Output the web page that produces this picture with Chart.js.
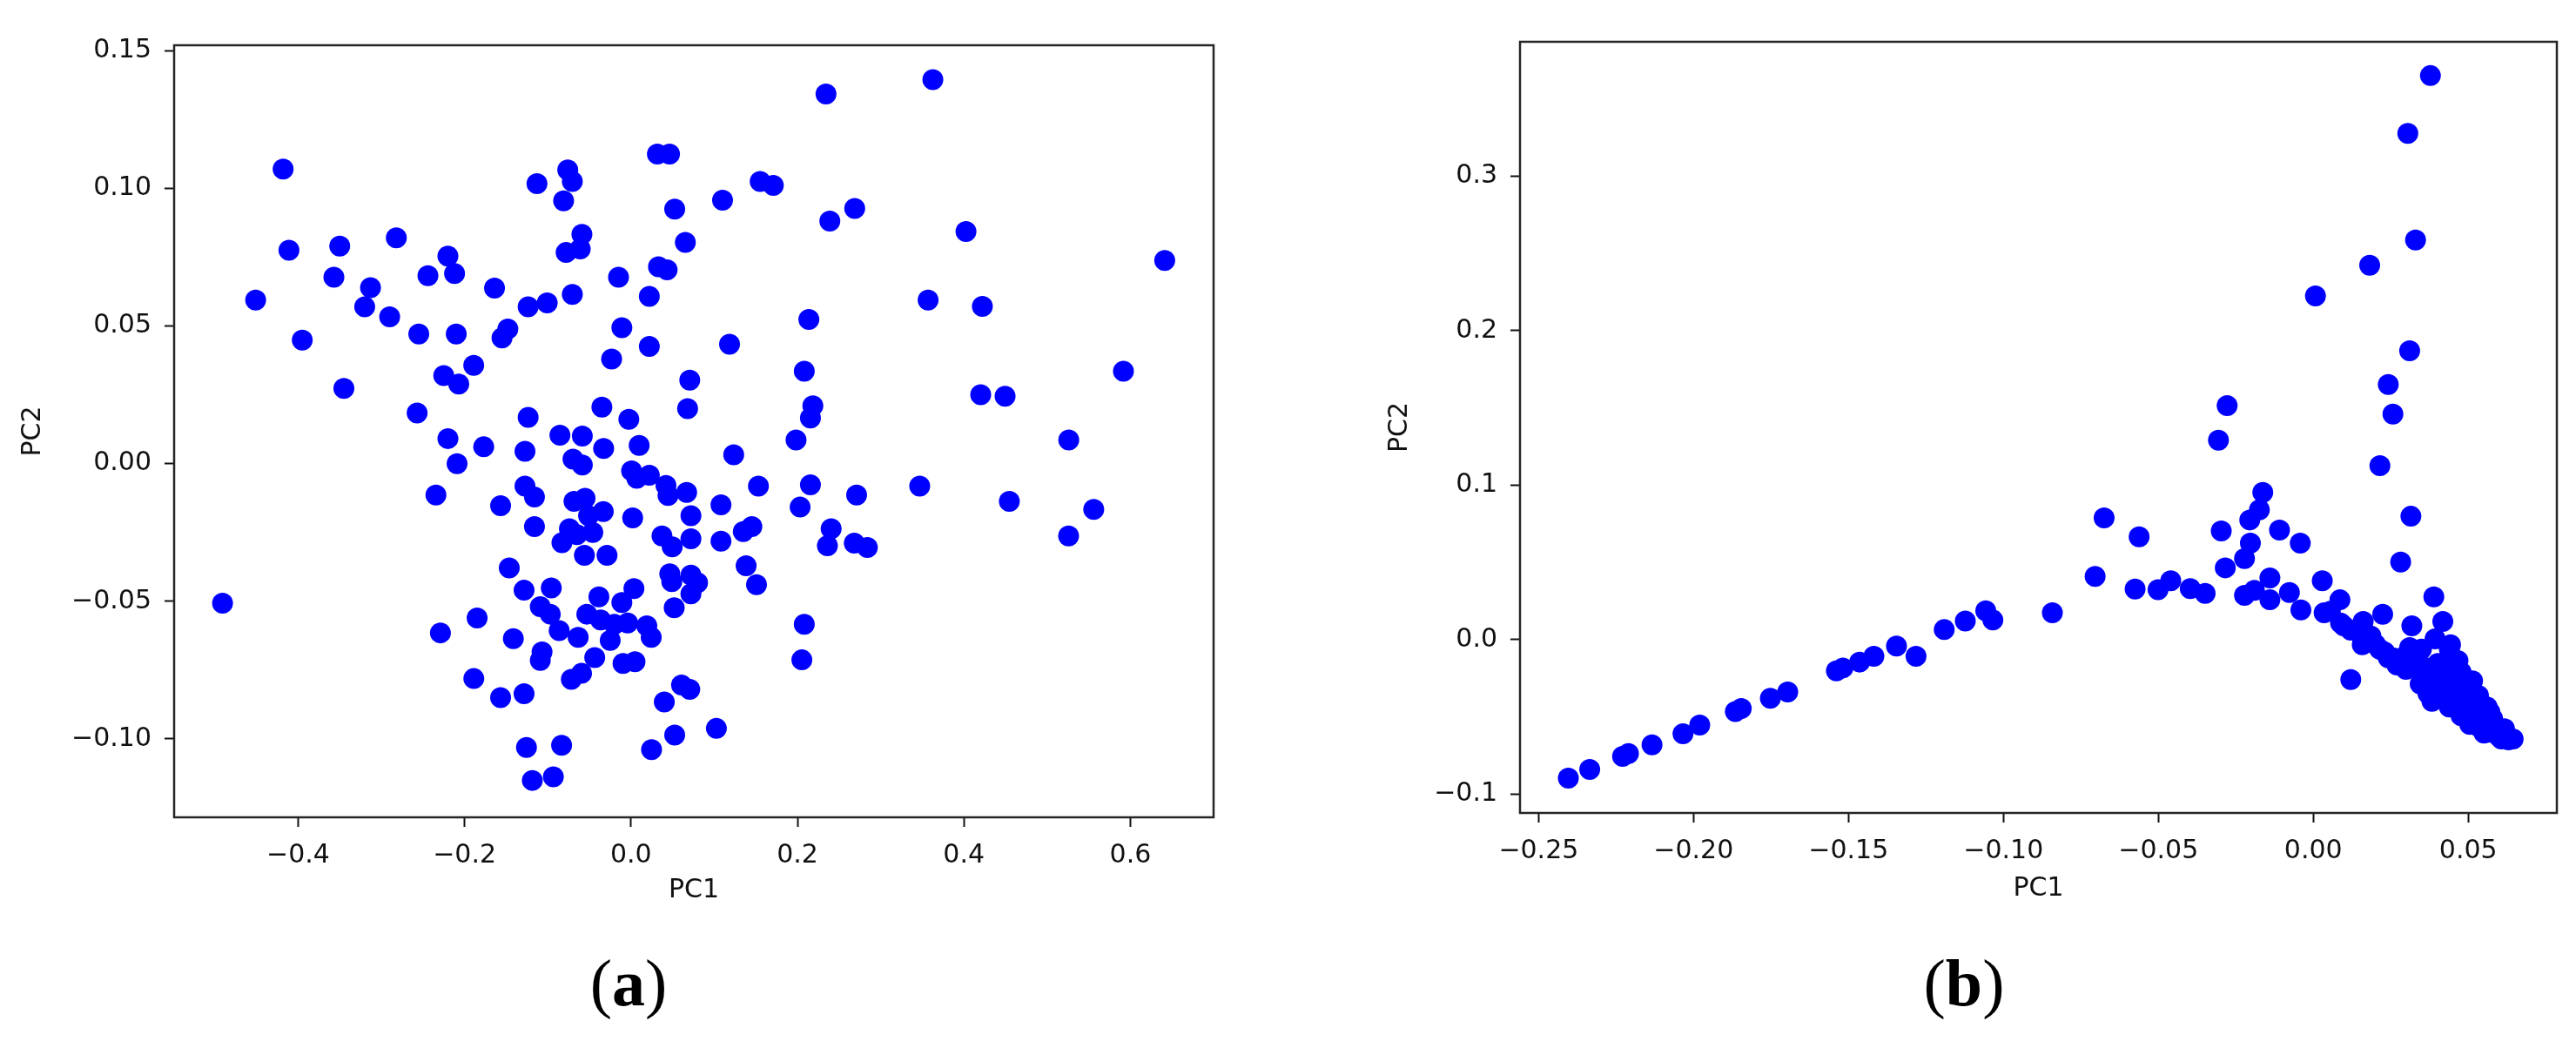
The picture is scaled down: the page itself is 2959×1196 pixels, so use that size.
<!DOCTYPE html>
<html>
<head>
<meta charset="utf-8">
<script src="https://cdn.jsdelivr.net/npm/chart.js@4.4.0/dist/chart.umd.min.js"></script>
<style>
  body { margin:0; background:#fff; width:2959px; height:1196px; position:relative; overflow:hidden; }
  .panel { position:absolute; top:0; height:1060px; }
  .caption { position:absolute; top:1079px; width:200px; text-align:center; font-family:"Liberation Serif", "Times New Roman", serif; font-size:76px; line-height:100px; color:#000; }
</style>
</head>
<body>

<div class="panel" style="left:0;width:1440px"><canvas id="pca-a"></canvas></div>
<div class="panel" style="left:1560px;width:1399px"><canvas id="pca-b"></canvas></div>
<div class="caption" style="left:622px">(<b>a</b>)</div>
<div class="caption" style="left:2156px">(<b>b</b>)</div>

<script>
// panel (a): PC1 / PC2 scores
var pcaA_x = [
  -0.418,-0.411,-0.350,-0.282,-0.357,-0.451,-0.313,-0.320,-0.290,-0.395,
  -0.255,-0.210,-0.220,-0.212,-0.244,-0.164,-0.148,-0.155,-0.189,-0.225,
  -0.207,-0.345,-0.257,-0.220,-0.177,-0.113,-0.076,-0.0705,-0.081,-0.059,
  -0.078,-0.061,-0.015,-0.0705,-0.1236,-0.1007,0.0317,0.0463,0.0525,0.0653,
  0.033,0.0434,0.022,-0.011,0.022,-0.0233,0.0706,0.068,-0.035,-0.0026,
  -0.1236,-0.0854,-0.0585,
  -0.1274,-0.0329,0.0098,-0.209,-0.0697,-0.0585,0.0007,0.007,0.022,0.042,
  0.0445,0.0669,-0.2344,-0.1567,-0.1274,-0.116,-0.0685,-0.0552,-0.0333,-0.051,
  0.002,-0.116,-0.074,-0.083,-0.065,-0.0459,-0.056,-0.0288,0.0372,0.0495,
  0.072,0.072,-0.1463,-0.1285,-0.0958,-0.109,-0.097,-0.0863,-0.0635,-0.0531,
  -0.0386,-0.0365,-0.020,-0.025,-0.011,0.0035,-0.004,0.019,0.0243,0.0466,
  0.049,0.0519,0.072,0.072,-0.1849,-0.229,-0.1414,-0.1069,-0.109,-0.0436,
  -0.0096,0.0048,-0.0717,-0.0594,-0.1889,-0.1567,-0.1285,0.0607,0.0706,0.040,
  0.0525,0.0247,-0.1256,-0.0834,-0.1186,-0.0933,-0.4908,
  0.2343,0.3627,0.1552,0.171,0.110,0.2688,0.2389,0.4025,0.6413,0.357,
  0.4222,0.2137,0.1184,0.2082,0.5917,0.4202,0.4495,0.2185,0.2156,0.1983,
  0.526,
  0.1234,0.1531,0.2156,0.2711,0.3469,0.4546,0.556,0.5258,0.1081,0.1081,
  0.1349,0.1452,0.2032,0.2405,0.236,0.2683,0.284,0.080,0.1383,0.1508,
  0.2082,0.2053,0.1026
];
var pcaA_y = [
  0.107,0.0775,0.079,0.082,0.0677,0.0594,0.0639,0.057,0.0533,0.0449,
  0.0471,0.0471,0.0754,0.0691,0.0683,0.0638,0.0489,0.0457,0.0357,0.032,
  0.0289,0.0273,0.0184,0.0091,0.0061,0.1017,0.1067,0.1025,0.0955,0.0833,
  0.0767,0.078,0.0677,0.0615,0.057,0.0584,0.1125,0.1125,0.0925,0.0804,
  0.0715,0.0704,0.0608,0.0494,0.0426,0.038,0.0303,0.020,0.0205,0.0161,
  0.0168,0.0103,0.010,
  0.0045,0.0055,0.0066,0.000,0.0016,-0.0005,-0.0026,-0.0053,-0.0042,-0.0079,
  -0.0116,-0.0105,-0.0114,-0.0153,-0.0082,-0.0121,-0.0137,-0.0126,-0.0174,-0.0189,
  -0.0197,-0.0229,-0.0237,-0.0287,-0.0258,-0.025,-0.0333,-0.0333,-0.0263,-0.0302,
  -0.0189,-0.0273,-0.0379,-0.046,-0.0452,-0.052,-0.0547,-0.0607,-0.0631,-0.0547,
  -0.0484,-0.0568,-0.0584,-0.0642,-0.0505,-0.0454,-0.0579,-0.0589,-0.0631,-0.040,
  -0.0429,-0.0524,-0.0405,-0.0473,-0.0561,-0.0615,-0.0636,-0.0684,-0.0715,-0.0705,
  -0.0726,-0.072,-0.0784,-0.0762,-0.0781,-0.085,-0.0836,-0.0804,-0.082,-0.0866,
  -0.0986,-0.1039,-0.1031,-0.1023,-0.1151,-0.1138,-0.0507,
  0.1343,0.1395,0.1025,0.1011,0.0957,0.0927,0.0881,0.0843,0.0738,0.0594,
  0.0571,0.0524,0.0434,0.0336,0.0336,0.025,0.0245,0.021,0.0166,0.0086,
  0.0086,
  0.0032,-0.0082,-0.0077,-0.0114,-0.0082,-0.0137,-0.0166,-0.0263,-0.015,-0.0282,
  -0.0247,-0.0229,-0.0158,-0.0237,-0.0298,-0.0289,-0.0305,-0.0433,-0.0371,-0.044,
  -0.0584,-0.0713,-0.0962
];
var xTicksA = [-0.4, -0.2, 0.0, 0.2, 0.4, 0.6];
var xLabelsA = ['\u22120.4', '\u22120.2', '0.0', '0.2', '0.4', '0.6'];
var yTicksA = [0.15, 0.10, 0.05, 0.00, -0.05, -0.10];
var yLabelsA = ['0.15', '0.10', '0.05', '0.00', '\u22120.05', '\u22120.10'];

// panel (b)
var pcaB_x = [
  0.0378,0.0305,0.033,0.0182,0.0007,0.0311,0.0242,0.0257,-0.0278,-0.0306,
  0.0215,-0.0163,-0.0174,-0.0205,0.0315,-0.0675,-0.0562,-0.0297,-0.0109,-0.0042,
  -0.0203,-0.0222,-0.0284,0.0282,-0.0704,-0.0575,-0.0501,-0.046,-0.0397,-0.0349,
  -0.0222,-0.019,-0.014,-0.014,-0.0077,-0.004,0.0029,0.0035,0.0086,0.0098,
  0.0161,0.0224,0.0161,0.0318,0.0389,0.0418,0.0121,0.0311,0.0349,0.0393,
  0.0443,-0.0842,
  -0.2404,-0.2335,-0.2229,-0.221,-0.2134,-0.2034,-0.198,-0.1865,-0.1846,-0.1752,
  -0.1696,-0.1539,-0.1518,-0.1464,-0.1418,-0.1345,-0.1282,-0.1191,-0.1123,-0.1057,
  -0.1034,
  0.0055,0.0088,0.0121,0.0158,0.0186,0.0158,0.0214,0.0242,0.027,0.0299,
  0.0336,0.0355,0.0383,0.0402,0.043,0.0439,0.0477,0.0495,0.0514,0.042,
  0.0458,0.0439,0.0486,0.0533,0.0477,0.0523,0.0561,0.0542,0.0579,0.0589,
  0.0617,0.0645,0.0607,0.0383,0.0345,0.0439,0.0551,0.0505,0.0439,0.0467,
  0.030,0.033,0.036,0.038,0.041,0.044,0.046,0.048,0.050,0.052,
  0.054,0.056,0.058,0.060,0.062,0.063,0.046,0.049,0.052,0.055,
  0.057,0.040,0.037,0.047,0.050,0.053,0.057,0.060,0.020,0.023,
  0.026,0.028
];
var pcaB_y = [
  0.3651,0.3277,0.2586,0.2423,0.2224,0.1869,0.1651,0.1459,0.1515,0.129,
  0.1125,0.0952,0.0839,0.0774,0.0798,0.0787,0.0665,0.0703,0.0708,0.0624,
  0.0624,0.0524,0.0464,0.0501,0.0408,0.0327,0.0323,0.038,0.0329,0.0299,
  0.0286,0.0318,0.0398,0.0257,0.0304,0.0192,0.038,0.0173,0.0257,0.0088,
  0.0117,0.0163,-0.0006,0.0088,0.0276,0.0117,-0.0259,-0.0052,-0.0062,0.0004,
  -0.0034,0.0173,
  -0.0897,-0.0841,-0.0757,-0.0738,-0.0682,-0.061,-0.0554,-0.0466,-0.0447,-0.0381,
  -0.034,-0.0203,-0.0184,-0.0146,-0.0109,-0.0043,-0.0109,0.0064,0.012,0.0186,
  0.0126,
  0.0183,0.0107,0.006,0.0014,0.0023,-0.0034,-0.0062,-0.0118,-0.0165,-0.0193,
  -0.0175,-0.025,-0.0306,-0.0155,-0.0212,-0.0118,-0.0212,-0.0287,-0.0268,-0.0362,
  -0.0362,-0.0437,-0.0419,-0.0362,-0.0494,-0.0475,-0.0437,-0.0531,-0.0513,-0.0588,
  -0.0578,-0.0644,-0.0644,-0.040,-0.0287,-0.0287,-0.0606,-0.055,-0.0062,-0.0137,
  -0.010,-0.013,-0.018,-0.022,-0.026,-0.031,-0.034,-0.038,-0.041,-0.045,
  -0.048,-0.052,-0.055,-0.059,-0.061,-0.065,-0.025,-0.032,-0.039,-0.043,
  -0.047,-0.033,-0.035,-0.045,-0.050,-0.056,-0.060,-0.063,-0.003,-0.008,
  -0.012,-0.015
];
var xTicksB = [-0.25, -0.20, -0.15, -0.10, -0.05, 0.00, 0.05];
var xLabelsB = ['\u22120.25', '\u22120.20', '\u22120.15', '\u22120.10', '\u22120.05', '0.00', '0.05'];
var yTicksB = [0.3, 0.2, 0.1, 0.0, -0.1];
var yLabelsB = ['0.3', '0.2', '0.1', '0.0', '\u22120.1'];

// axes frame on all four sides, like matplotlib spines
var framePlugin = {
  id: 'frame',
  afterDraw: function(chart) {
    var ctx = chart.ctx, a = chart.chartArea;
    ctx.save();
    ctx.strokeStyle = '#262626';
    ctx.lineWidth = 2.5;
    ctx.strokeRect(a.left, a.top, a.right - a.left, a.bottom - a.top);
    ctx.restore();
  }
};

var tickFont = { family: 'DejaVu Sans', size: 30 };

function scatterPanel(id, xs, ys, cfg) {
  var points = xs.map(function(x, i) { return { x: x, y: ys[i] }; });
  return new Chart(document.getElementById(id), {
    type: 'scatter',
    data: {
      datasets: [{
        data: points,
        backgroundColor: '#0000ff',
        borderWidth: 0,
        pointRadius: 12,
        pointHoverRadius: 12
      }]
    },
    options: {
      responsive: true,
      maintainAspectRatio: false,
      animation: false,
      events: [],
      layout: { padding: { top: cfg.padTop, right: cfg.padRight, left: 0, bottom: 0 } },
      plugins: { legend: { display: false }, tooltip: { enabled: false } },
      scales: {
        x: {
          type: 'linear',
          min: cfg.xMin, max: cfg.xMax,
          afterBuildTicks: function(s) { s.ticks = cfg.xTicks.map(function(v) { return { value: v }; }); },
          afterFit: function(s) { s.height = cfg.xAxisH; },
          ticks: {
            autoSkip: false, maxRotation: 0, padding: 15, color: '#111', font: tickFont,
            callback: function(v, i) { return cfg.xLabels[i]; }
          },
          grid: { drawOnChartArea: false, drawTicks: true, tickLength: 11, tickWidth: 2, tickColor: '#111' },
          border: { display: false },
          title: { display: true, text: 'PC1', color: '#111', font: tickFont, padding: { top: 0, bottom: cfg.xTitlePad } }
        },
        y: {
          type: 'linear',
          min: cfg.yMin, max: cfg.yMax,
          afterBuildTicks: function(s) { s.ticks = cfg.yTicks.map(function(v) { return { value: v }; }); },
          afterFit: function(s) { s.width = cfg.yAxisW; },
          ticks: {
            autoSkip: false, padding: 15, color: '#111', font: tickFont,
            callback: function(v, i) { return cfg.yLabels[i]; }
          },
          grid: { drawOnChartArea: false, drawTicks: true, tickLength: 11, tickWidth: 2, tickColor: '#111' },
          border: { display: false },
          title: { display: true, text: 'PC2', color: '#111', font: tickFont, padding: { top: cfg.yTitlePad, bottom: 0 } }
        }
      }
    },
    plugins: [framePlugin]
  });
}

scatterPanel('pca-a', pcaA_x, pcaA_y, {
  xMin: -0.549, xMax: 0.700, yMin: -0.1285, yMax: 0.152,
  xTicks: xTicksA, xLabels: xLabelsA, yTicks: yTicksA, yLabels: yLabelsA,
  padTop: 52, padRight: 46, yAxisW: 200, xAxisH: 121, xTitlePad: 19, yTitlePad: 20
});

scatterPanel('pca-b', pcaB_x, pcaB_y, {
  xMin: -0.256, xMax: 0.0786, yMin: -0.1123, yMax: 0.387,
  xTicks: xTicksB, xLabels: xLabelsB, yTicks: yTicksB, yLabels: yLabelsB,
  padTop: 48, padRight: 22, yAxisW: 186, xAxisH: 126, xTitlePad: 21, yTitlePad: 30
});
</script>
</body>
</html>
